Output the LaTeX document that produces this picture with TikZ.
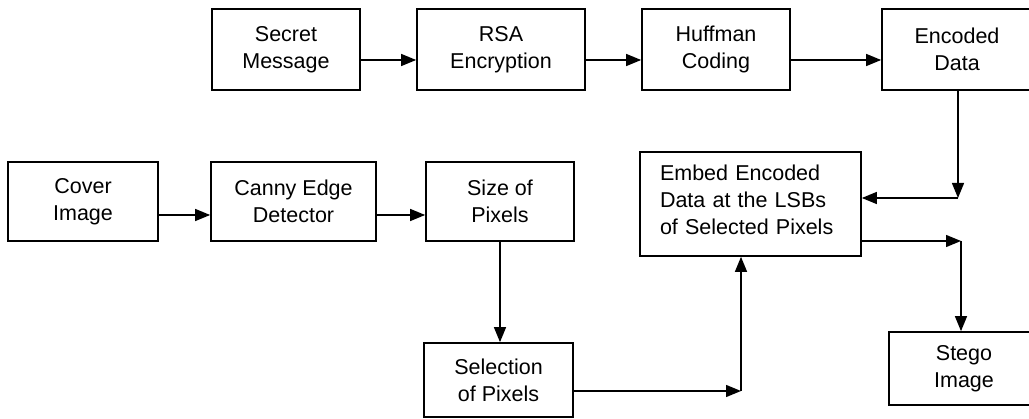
\documentclass[tikz,border=0pt]{standalone}
\usepackage{fontspec}
\setmainfont{Liberation Sans}
\usepackage{tikz}
\usetikzlibrary{arrows.meta}

\begin{document}
\begin{tikzpicture}[>={Triangle[length=15pt,width=12pt]},x=1pt,y=-1pt,
  blk/.style={draw,line width=1.7pt,align=center,inner sep=0pt,
    font=\fontsize{21.5}{27}\selectfont},
  flow/.style={->,line width=1.4pt}]
\useasboundingbox (0,0) rectangle (1029,419);
\def\rowA{49.5}
\def\rowB{201.5}

% message side
\node[blk,minimum width=148pt,minimum height=81pt] (secret) at (286,\rowA) {Secret\\Message};
\node[blk,minimum width=168pt,minimum height=81pt] (rsa) at (501,\rowA) {RSA\\Encryption};
\node[blk,minimum width=148pt,minimum height=81pt] (huff) at (716,\rowA) {Huffman\\Coding};
\node[blk,minimum width=150pt,minimum height=81pt] (enc) at (957,\rowA) {Encoded\\Data};

% image side
\node[blk,minimum width=150pt,minimum height=79pt] (cover) at (83,\rowB) {Cover\\Image};
\node[blk,minimum width=165pt,minimum height=79pt] (canny) at (293.5,\rowB) {Canny Edge\\Detector};
\node[blk,minimum width=148pt,minimum height=79pt] (size) at (500,\rowB) {Size of\\Pixels};
\node[blk,minimum width=149pt,minimum height=74pt] (sel) at (498.5,380) {Selection\\of Pixels};

\node[blk,align=left,text width=181pt,inner xsep=20pt,minimum height=104pt] (embed) at (750.5,204)
  {Embed Encoded\\Data at the LSBs\\of Selected Pixels\vspace{8pt}};
\node[blk,minimum width=150pt,minimum height=73pt] (stego) at (964,368.5) {Stego\\Image};

\coordinate (encturn) at (958,198);
\coordinate (stegoturn) at (961,241);
\coordinate (selturn) at (741,391);

\draw[flow] ([yshift=-10.5pt]secret.east) -- ([yshift=-10.5pt]rsa.west);
\draw[flow] ([yshift=-10.5pt]rsa.east) -- ([yshift=-10.5pt]huff.west);
\draw[flow] ([yshift=-10.5pt]huff.east) -- ([yshift=-10.5pt]enc.west);

\draw[flow] ([yshift=-13.5pt]cover.east) -- ([yshift=-13.5pt]canny.west);
\draw[flow] ([yshift=-13.5pt]canny.east) -- ([yshift=-13.5pt]size.west);
\draw[flow] (size.south) -- (sel.north -| size.south);

\draw[flow] (enc.south -| encturn) -- (encturn);
\draw[flow] (encturn) -- (embed.east |- encturn);
\draw[flow] (embed.east |- stegoturn) -- (stegoturn);
\draw[flow] (stegoturn) -- (stego.north -| stegoturn);
\draw[flow] (sel.east |- selturn) -- (selturn);
\draw[flow] (selturn) -- (embed.south -| selturn);

\end{tikzpicture}
\end{document}
